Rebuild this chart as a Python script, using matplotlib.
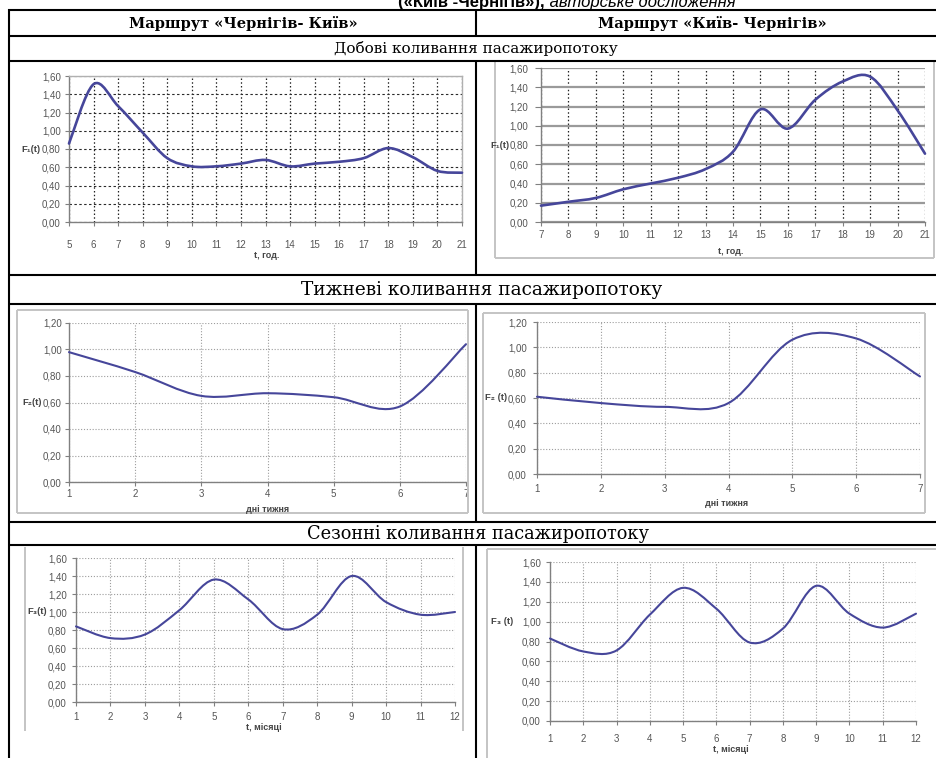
import matplotlib
matplotlib.use('Agg')
import matplotlib.pyplot as plt
from matplotlib.path import Path
from matplotlib.patches import PathPatch
from matplotlib.lines import Line2D
import numpy as np

W, H = 936, 758

# ---------------- data ----------------
hours_cn = list(range(5, 22))
f1_cn = [0.86, 1.51, 1.27, 0.98, 0.70, 0.61, 0.61, 0.64, 0.68, 0.61, 0.64, 0.66, 0.70, 0.81, 0.71, 0.56, 0.54]
hours_kc = list(range(7, 22))
f1_kc = [0.17, 0.21, 0.25, 0.34, 0.40, 0.46, 0.55, 0.73, 1.17, 0.97, 1.27, 1.46, 1.51, 1.16, 0.71]
days = list(range(1, 8))
f2_cn = [0.98, 0.83, 0.65, 0.67, 0.64, 0.57, 1.04]
f2_kc = [0.61, 0.56, 0.53, 0.56, 1.06, 1.07, 0.77]
months = list(range(1, 13))
f3_cn = [0.84, 0.71, 0.75, 1.02, 1.36, 1.14, 0.81, 0.97, 1.40, 1.11, 0.97, 1.00]
f3_kc = [0.83, 0.70, 0.71, 1.07, 1.34, 1.13, 0.79, 0.93, 1.36, 1.08, 0.94, 1.08]

yticks_16 = [0.00, 0.20, 0.40, 0.60, 0.80, 1.00, 1.20, 1.40, 1.60]
yticks_12 = [0.00, 0.20, 0.40, 0.60, 0.80, 1.00, 1.20]

header_left = "Маршрут «Чернігів- Київ»"
header_right = "Маршрут «Київ- Чернігів»"
row_daily = "Добові коливання пасажиропотоку"
row_weekly = "Тижневі коливання пасажиропотоку"
row_season = "Сезонні коливання пасажиропотоку"
title_bold = "(«Київ -Чернігів»),"
title_italic = " авторське дослідження"

LINE = '#46469a'
PX = 0.72  # points per pixel at dpi 100

fig = plt.figure(figsize=(W / 100, H / 100), dpi=100)
fig.patch.set_facecolor('white')


def fx(x):
    return x / W


def fy(y):
    return 1 - y / H


def hline(y, x0, x1, color='black', lw=1.5):
    fig.add_artist(Line2D([fx(x0), fx(x1)], [fy(y), fy(y)], color=color, lw=lw,
                          transform=fig.transFigure, solid_capstyle='butt'))


def vline(x, y0, y1, color='black', lw=1.5):
    fig.add_artist(Line2D([fx(x), fx(x)], [fy(y0), fy(y1)], color=color, lw=lw,
                          transform=fig.transFigure, solid_capstyle='butt'))


def smooth_path(x, y):
    P = np.column_stack([x, y]).astype(float)
    n = len(P)
    verts = [P[0]]
    codes = [Path.MOVETO]
    for i in range(n - 1):
        p0 = P[i - 1] if i > 0 else P[i]
        p1 = P[i]
        p2 = P[i + 1]
        p3 = P[i + 2] if i + 2 < n else P[i + 1]
        c1 = p1 + (p2 - p0) / 6.0
        c2 = p2 - (p3 - p1) / 6.0
        verts += [c1, c2, p2]
        codes += [Path.CURVE4] * 3
    return Path(verts, codes)


def fmt(v):
    return f"{v:.2f}".replace('.', ',')


def chart(x, y, box, yticks, ylab, ylab_px, xlab, xlab_px, ypad, xpad,
          hgrid, vgrid, spines_tr, lw=1.6, xlen=3, ylen=3):
    l, r, t, b = box
    ax = fig.add_axes([fx(l), fy(b), (r - l) / W, (b - t) / H])
    ax.set_xlim(x[0], x[-1])
    ax.set_ylim(yticks[0], yticks[-1])
    ax.set_xticks(x)
    ax.set_xticklabels([str(v) for v in x])
    ax.set_yticks(yticks)
    ax.set_yticklabels([fmt(v) for v in yticks])
    for s in ['left', 'bottom']:
        ax.spines[s].set_color('#808080')
        ax.spines[s].set_linewidth(1.0)
    for s in ['top', 'right']:
        if spines_tr:
            ax.spines[s].set_color('#b0b0b0')
            ax.spines[s].set_linewidth(1.0)
        else:
            ax.spines[s].set_visible(False)
    ax.tick_params(axis='y', length=ylen, width=0.8, color='#808080', pad=ypad * PX,
                   labelsize=7, labelcolor='#555555')
    ax.tick_params(axis='x', length=xlen, width=0.8, color='#808080', pad=xpad * PX,
                   labelsize=7, labelcolor='#555555')
    for lab in ax.get_xticklabels() + ax.get_yticklabels():
        lab.set_fontfamily(['Liberation Sans', 'DejaVu Sans'])
    ax.yaxis.grid(True, **hgrid)
    ax.xaxis.grid(True, **vgrid)
    ax.set_axisbelow(True)
    ax.add_patch(PathPatch(smooth_path(x, y), fill=False, edgecolor=LINE, lw=lw,
                           clip_on=False, zorder=5, capstyle='round', joinstyle='round'))
    fig.text(fx(ylab_px[0]), fy(ylab_px[1]), ylab, ha='right', va='center', fontsize=6.8,
             fontweight='bold', color='#444444', family=['Liberation Sans', 'DejaVu Sans'])
    fig.text(fx(xlab_px[0]), fy(xlab_px[1]), xlab, ha='center', va='center', fontsize=6.5,
             fontweight='bold', color='#444444', family=['Liberation Sans', 'DejaVu Sans'])
    return ax


dark_dash = dict(ls=(0, (2.2, 2.2)), color='#2a2a2a', lw=0.8)
dark_dot = dict(ls=(0, (1.2, 1.8)), color='#222222', lw=0.9)
gray_solid = dict(ls='-', color='#9a9a9a', lw=1.6)
gray_dot = dict(ls=(0, (1.0, 1.6)), color='#9c9c9c', lw=0.8)

# ---------------- chart frames (decor) ----------------
FR = '#c4c4c4'
# chart 2 frame
vline(495, 62, 258, FR, 1.4)
vline(934, 62, 258, FR, 1.4)
hline(258, 495, 934, FR, 1.4)
# chart 3 frame
hline(310, 17, 468, FR, 1.4)
hline(513, 17, 468, FR, 1.4)
vline(17, 310, 513, FR, 1.4)
vline(468, 310, 513, FR, 1.4)
# chart 4 frame
hline(313, 483, 925, FR, 1.4)
hline(513, 483, 925, FR, 1.4)
vline(483, 313, 513, FR, 1.4)
vline(925, 313, 513, FR, 1.4)
# chart 5 frame
vline(25, 547, 731, FR, 1.4)
vline(463, 547, 731, FR, 1.4)
# chart 6 frame
vline(487, 549, 758, FR, 1.4)
hline(549, 487, 936, FR, 1.4)

# ---------------- charts ----------------
chart(hours_cn, f1_cn, (69, 462, 76, 222), yticks_16, "F₁(t)", (41, 149), "t, год.", (267, 255),
      ypad=4, xpad=14, hgrid=dark_dash, vgrid=dark_dot, spines_tr=True, lw=1.9)
chart(hours_kc, f1_kc, (541, 925, 68, 222), yticks_16, "F₁(t)", (510, 145), "t, год.", (731, 251),
      ypad=7, xpad=3.5, hgrid=gray_solid, vgrid=dark_dot, spines_tr=False, lw=1.9, ylen=4)
chart(days, f2_cn, (69, 466, 323, 482), yticks_12, "F₂(t)", (42, 402), "дні тижня", (268, 509),
      ypad=3, xpad=3, hgrid=gray_dot, vgrid=gray_dot, spines_tr=False, lw=1.5)
chart(days, f2_kc, (537, 920, 322, 474), yticks_12, "F₂ (t)", (507, 398), "дні тижня", (727, 504),
      ypad=6, xpad=6, hgrid=gray_dot, vgrid=gray_dot, spines_tr=False, lw=1.5)
chart(months, f3_cn, (76, 455, 558, 702), yticks_16, "F₃(t)", (47, 612), "t, місяці", (264, 727),
      ypad=5, xpad=5.5, hgrid=gray_dot, vgrid=gray_dot, spines_tr=False, lw=1.5)
chart(months, f3_kc, (550, 916, 562, 721), yticks_16, "F₃ (t)", (513, 621), "t, місяці", (731, 750),
      ypad=5, xpad=8.5, hgrid=gray_dot, vgrid=gray_dot, spines_tr=False, lw=1.5)

# ---------------- table ----------------
hline(10, 8, 936)
hline(36, 8, 936)
hline(61, 8, 936)
hline(275, 8, 936)
hline(304, 8, 936)
hline(522, 8, 936)
hline(545, 8, 936)
vline(9, 9, 758)
for (a, b_) in [(10, 36), (61, 275), (304, 522), (545, 758)]:
    vline(476, a, b_)

serif = ['DejaVu Serif']
fig.text(fx(243), fy(23.5), header_left, ha='center', va='center', fontsize=10.5,
         fontweight='bold', family=serif)
fig.text(fx(712), fy(23.5), header_right, ha='center', va='center', fontsize=10.5,
         fontweight='bold', family=serif)
fig.text(fx(476), fy(49), row_daily, ha='center', va='center', fontsize=11, family=serif)
fig.text(fx(482), fy(290), row_weekly, ha='center', va='center', fontsize=13.3, family=serif)
fig.text(fx(478), fy(534), row_season, ha='center', va='center', fontsize=12.8, family=serif)

# top (cropped) caption, cut by the top edge as in the source page
fig.text(fx(545), fy(7), title_bold, ha='right', va='baseline', fontsize=12,
         fontweight='bold', family=['Liberation Sans', 'DejaVu Sans'])
fig.text(fx(545), fy(7), title_italic, ha='left', va='baseline', fontsize=12,
         style='italic', family=['Liberation Sans', 'DejaVu Sans'])

fig.savefig('out.png', dpi=100, facecolor='white')
